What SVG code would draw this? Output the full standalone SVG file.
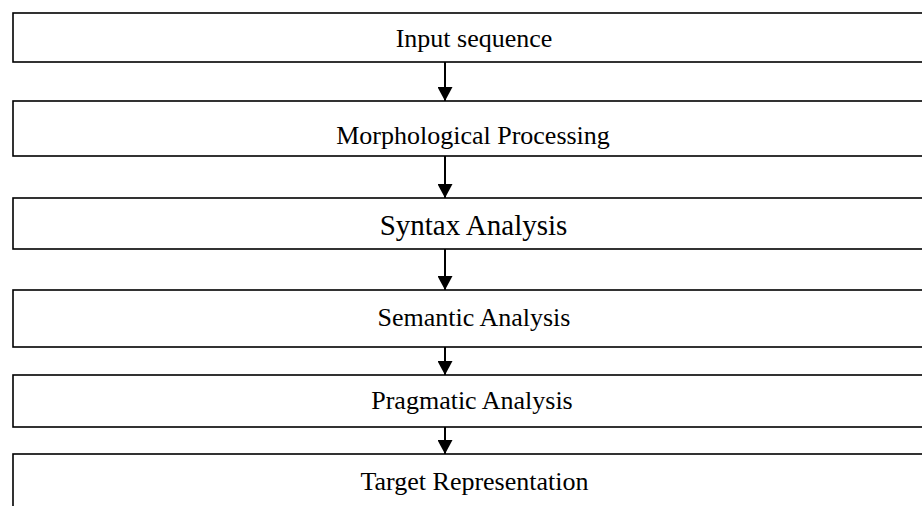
<svg xmlns="http://www.w3.org/2000/svg" width="922" height="506" viewBox="0 0 922 506">
<style>
.box{fill:#fff;stroke:#000;stroke-width:1.6}
.lbl{font-family:"Liberation Serif","Times New Roman",serif;font-size:26px;fill:#000;text-anchor:middle}
.big{font-size:29px}
.conn{stroke:#000;stroke-width:2;fill:none}
</style>
<defs>
<marker id="ah" viewBox="0 0 14 15" refX="14" refY="7.5" markerWidth="14" markerHeight="15" markerUnits="userSpaceOnUse" orient="auto">
<path d="M0,0 L14,7.5 L0,15 Z" fill="#000"/>
</marker>
</defs>
<rect width="922" height="506" fill="#fff"/>
<g id="n1"><rect class="box" x="13" y="13" width="930" height="49"/><text class="lbl" x="474" y="47">Input sequence</text></g>
<g id="n2"><rect class="box" x="13" y="101" width="930" height="55"/><text class="lbl" x="473" y="144">Morphological Processing</text></g>
<g id="n3"><rect class="box" x="13" y="198" width="930" height="51"/><text class="lbl big" x="473.5" y="235">Syntax Analysis</text></g>
<g id="n4"><rect class="box" x="13" y="290" width="930" height="57"/><text class="lbl" x="474" y="326">Semantic Analysis</text></g>
<g id="n5"><rect class="box" x="13" y="375" width="930" height="52"/><text class="lbl" x="472" y="409">Pragmatic Analysis</text></g>
<g id="n6"><rect class="box" x="13" y="454" width="930" height="80"/><text class="lbl" x="474.5" y="490">Target Representation</text></g>
<g id="connectors">
<line class="conn" x1="445" y1="62" x2="445" y2="101" marker-end="url(#ah)"/>
<line class="conn" x1="445" y1="156" x2="445" y2="198" marker-end="url(#ah)"/>
<line class="conn" x1="445" y1="249" x2="445" y2="290" marker-end="url(#ah)"/>
<line class="conn" x1="445" y1="347" x2="445" y2="375" marker-end="url(#ah)"/>
<line class="conn" x1="445" y1="427" x2="445" y2="454" marker-end="url(#ah)"/>
</g>
</svg>
